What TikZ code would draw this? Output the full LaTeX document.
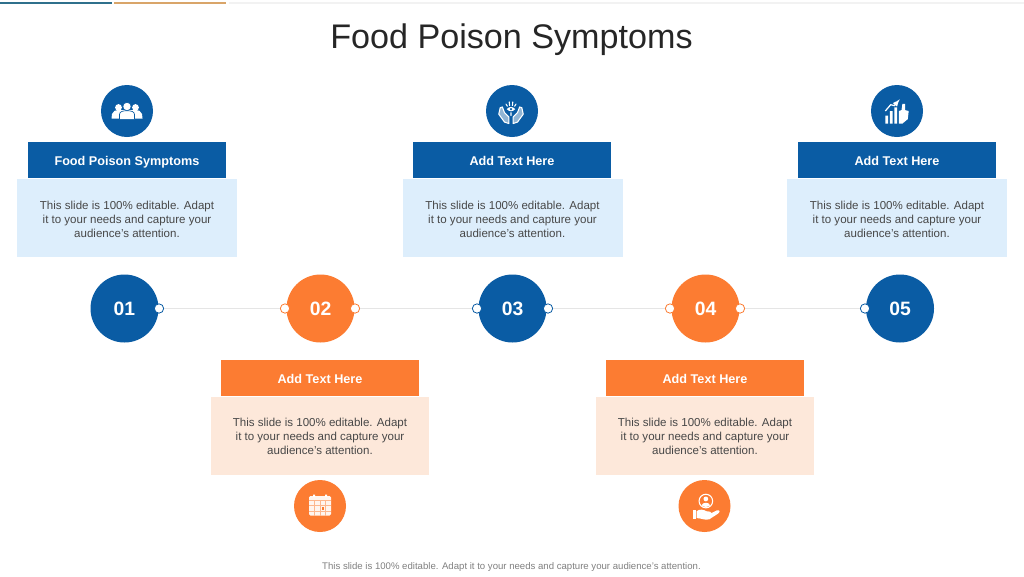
\documentclass[tikz,border=0pt]{standalone}
\usepackage{fontspec}
\setmainfont{Liberation Sans}
\definecolor{bl}{HTML}{0A5CA4}
\definecolor{or}{HTML}{FC7C32}
\definecolor{lb}{HTML}{DDEEFC}
\definecolor{lo}{HTML}{FDE8DA}
\definecolor{txt}{HTML}{474747}
\definecolor{teal}{HTML}{2F708C}
\definecolor{tan}{HTML}{D9A569}
\tikzset{
 x=0.75pt,y=-0.75pt,
 hdr/.style={minimum width=148.5pt,minimum height=27pt,inner sep=0pt,text=white,text height=10pt,text depth=2pt,font=\fontsize{9.5}{11}\selectfont\bfseries},
 bodybox/.style={minimum width=165pt,minimum height=58.5pt,inner sep=0pt,text=txt,align=center,font=\fontsize{8.65}{10.4}\selectfont},
 lowbox/.style={bodybox,minimum width=163.5pt},
 num/.style={circle,minimum size=51pt,inner sep=0pt,text=white,font=\fontsize{14.5}{16}\selectfont\bfseries},
 ico/.style={circle,minimum size=39pt,inner sep=0pt},
 dot/.style={circle,minimum size=7pt,inner sep=0pt,fill=white,line width=0.6pt},
 link/.style={draw=black!10,line width=0.7pt},
}
\newcommand{\bodytext}[1]{\rule{0pt}{#1}This slide is 100\% editable. Adapt\\it to your needs and capture your\\audience's attention.}
\begin{document}
\begin{tikzpicture}
\useasboundingbox (0,0) rectangle (1024,576);
\fill[white] (0,0) rectangle (1024,576);
\fill[black!5] (229,2) rectangle (1024,3.5);
\fill[teal] (0,2) rectangle (112,3.8);
\fill[tan] (114,2) rectangle (226,3.8);
\node[text=black!85,font=\fontsize{25.6}{30}\selectfont] (title) at (511.5,40) {Food Poison Symptoms};
\node[text=black!50,font=\fontsize{7.2}{9}\selectfont] (foot) at (511.5,567) {This slide is 100\% editable. Adapt it to your needs and capture your audience's attention.};
% top groups
\node[bodybox,fill=lb] (b1) at (127,218) {\bodytext{8.1pt}};
\node[bodybox,fill=lb] (b3) at (512.5,218) {\bodytext{8.1pt}};
\node[bodybox,fill=lb] (b5) at (897,218) {\bodytext{8.1pt}};
\node[hdr,fill=bl] (h1) at (127,160) {Food Poison Symptoms};
\node[hdr,fill=bl] (h3) at (512,160) {Add Text Here};
\node[hdr,fill=bl] (h5) at (897,160) {Add Text Here};
\node[ico,fill=bl] (i1) at (127,111) {};
\node[ico,fill=bl] (i3) at (512,111) {};
\node[ico,fill=bl] (i5) at (897,111) {};
% bottom groups
\node[lowbox,fill=lo] (b2) at (320,436) {\bodytext{6.6pt}};
\node[lowbox,fill=lo] (b4) at (705,436) {\bodytext{6.6pt}};
\node[hdr,fill=or] (h2) at (320,378) {Add Text Here};
\node[hdr,fill=or] (h4) at (705,378) {Add Text Here};
\node[ico,fill=or] (i2) at (320,506) {};
\node[ico,fill=or] (i4) at (704.5,506) {};
% timeline
\node[num,fill=bl] (n1) at (124.5,308.5) {01};
\node[num,fill=or] (n2) at (320.5,308.5) {02};
\node[num,fill=bl] (n3) at (512.5,308.5) {03};
\node[num,fill=or] (n4) at (705.5,308.5) {04};
\node[num,fill=bl] (n5) at (900,308.5) {05};
\node[dot,draw=bl] (d1r) at (159,308.5) {};
\node[dot,draw=or] (d2l) at (285,308.5) {};
\node[dot,draw=or] (d2r) at (355,308.5) {};
\node[dot,draw=bl] (d3l) at (477,308.5) {};
\node[dot,draw=bl] (d3r) at (548,308.5) {};
\node[dot,draw=or] (d4l) at (670,308.5) {};
\node[dot,draw=or] (d4r) at (740,308.5) {};
\node[dot,draw=bl] (d5l) at (865,308.5) {};
\draw[link] (d1r) -- (d2l);
\draw[link] (d2r) -- (d3l);
\draw[link] (d3r) -- (d4l);
\draw[link] (d4r) -- (d5l);
% people icon
\begin{scope}[shift={(127,111)}]
 \fill[white] (-15.5,7.5) -- (-15,3) .. controls (-14.5,0) and (-11,-1) .. (-9,-1) -- (9,-1) .. controls (11,-1) and (14.5,0) .. (15,3) -- (15.5,7.5) -- cycle;
 \fill[white] (-8.5,-3.5) circle (3.4);
 \fill[white] (8.5,-3.5) circle (3.4);
 \draw[bl,line width=0.5pt,fill=white] (0,-4.5) circle (4.2);
 \draw[bl,line width=0.5pt,fill=white] (-7.5,8) -- (-7.5,3.5) .. controls (-7.5,0.5) and (-4,-0.3) .. (0,-0.3) .. controls (4,-0.3) and (7.5,0.5) .. (7.5,3.5) -- (7.5,8);
\end{scope}
% hands icon
\begin{scope}[shift={(511,112)},scale=0.72]
 \draw[white,line width=0.8pt,line join=round,fill=white,fill opacity=0.55] (-15,-6) -- (-17,3) -- (-9,14) -- (-3,16) -- (-3,7) -- (-9,1) -- (-12,-7) -- cycle;
 \draw[white,line width=0.8pt,line join=round,fill=white,fill opacity=0.55] (15,-6) -- (17,3) -- (9,14) -- (3,16) -- (3,7) -- (9,1) -- (12,-7) -- cycle;
 \fill[white] (-6,-4) .. controls (-2,-8) and (2,-8) .. (6,-4) .. controls (2,0) and (-2,0) .. (-6,-4);
 \fill[bl] (0,-4) circle (1.6);
 \draw[white,line width=0.8pt,line cap=round] (-5,-8) -- (-7,-11) (-2,-9) -- (-2.5,-14) (2,-9) -- (2.5,-14) (5,-8) -- (7,-11) (0,1) -- (0,5);
\end{scope}
% chart icon
\begin{scope}[shift={(897,111)},scale=0.9]
 \fill[white] (-13,5) rectangle (-10,14) (-8,0) rectangle (-5,14) (-3,-4) rectangle (0,14);
 \fill[white] (2,14) -- (2,0) -- (5,-1) -- (6,-8) -- (9,-8) -- (9,-1) -- (13,0) -- (12,9) -- (6,14) -- cycle;
 \draw[white,line width=0.9pt,-{latex}] (-13,0) -- (-7,-7) -- (-3,-6) -- (3,-13);
\end{scope}
% calendar icon
\begin{scope}[shift={(320,506)}]
 \fill[white!92!or,rounded corners=1pt] (-11,-10) rectangle (11,9.5);
 \fill[white] (-7,-11.5) rectangle (-5,-9) (5,-11.5) rectangle (7,-9);
 \draw[or!55,line width=0.5pt] (-11,-6) -- (11,-6) (-11,-0.5) -- (11,-0.5) (-11,5) -- (11,5) (-5.5,-6) -- (-5.5,9.5) (0,-6) -- (0,9.5) (5.5,-6) -- (5.5,9.5);
 \fill[or] (1.5,1) rectangle (4,3.5);
\end{scope}
% hand and person icon
\begin{scope}[shift={(705,507)},scale=0.85]
 \draw[white,line width=0.8pt] (1,-7) circle (8);
 \fill[white] (1,-9.5) circle (2.8);
 \fill[white] (-4,-2) .. controls (-3,-6) and (5,-6) .. (6,-2) .. controls (3,0.5) and (-1,0.5) .. (-4,-2);
 \fill[white] (-14,4) rectangle (-11,14);
 \fill[white] (-10,5) .. controls (-6,2) and (-2,3) .. (2,5) -- (6,5.5) .. controls (8,6) and (8,8) .. (5,8.5) -- (14,4) .. controls (18,3) and (18,6) .. (15,8) -- (5,14.5) .. controls (0,16) and (-5,13) .. (-10,13) -- cycle;
\end{scope}
\end{tikzpicture}
\end{document}
